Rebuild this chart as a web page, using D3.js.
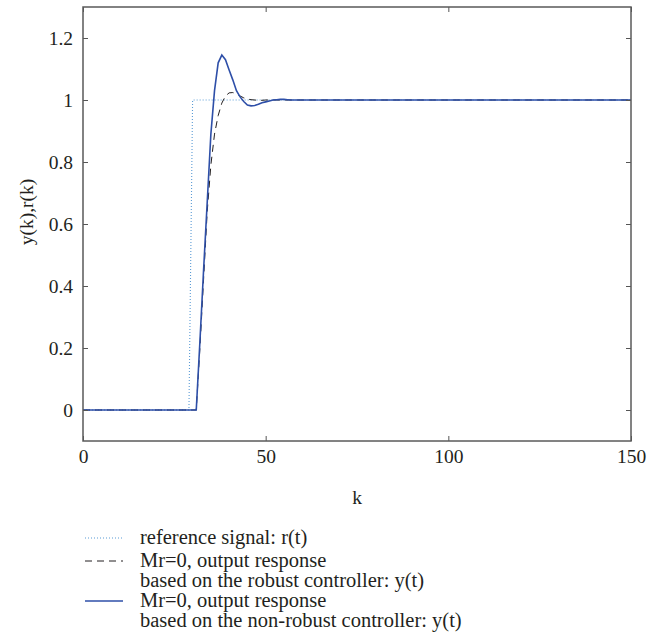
<!DOCTYPE html>
<html>
<head>
<meta charset="utf-8">
<script src="https://cdn.jsdelivr.net/npm/d3@7"></script>
<style>
  body { margin: 0; background: #fff; }
  text { font-family: "Liberation Serif", "DejaVu Serif", serif; fill: #231f20; }
</style>
</head>
<body>
<div id="chart"></div>
<script>
let width = 659
  , height = 637
  , marginLeft = 83
  , marginTop = 7
  , plotW = 548
  , plotH = 434
  , fontSize = "19.5px"
  , legendFont = "20.5px";

// reference step r(k)
let kRef = [0, 29, 30, 150];
let rRef = [0, 0, 1, 1];

// robust controller output (dashed)
let kRob = [0, 31, 32, 33, 34, 35, 36, 37, 38, 39, 40, 41, 42, 43, 44, 45, 46, 47, 48, 49, 50, 60, 150];
let yRob = [0, 0, 0.2, 0.42, 0.64, 0.79, 0.89, 0.95, 0.99, 1.013, 1.023, 1.024, 1.02, 1.013, 1.007, 1.003, 1.001, 1.0, 0.999, 0.999, 1.0, 1.0, 1.0];

// non-robust controller output (solid)
let kNon = [0, 31, 32, 33, 34, 35, 36, 37, 38, 39, 40, 41, 42, 43, 44, 45, 46, 47, 48, 49, 50, 51, 52, 53, 54, 55, 56, 57, 60, 150];
let yNon = [0, 0, 0.22, 0.45, 0.67, 0.89, 1.03, 1.12, 1.145, 1.13, 1.097, 1.065, 1.03, 1.01, 0.995, 0.984, 0.981, 0.982, 0.986, 0.991, 0.994, 0.997, 1.0, 1.001, 1.002, 1.002, 1.001, 1.0, 1.0, 1.0];

let xTicks = [0, 50, 100, 150];
let yTicks = [0, 0.2, 0.4, 0.6, 0.8, 1, 1.2];

let legendLabels = [
  ["reference signal: r(t)"],
  ["Mr=0, output response", "based on the robust controller: y(t)"],
  ["Mr=0, output response", "based on the non-robust controller: y(t)"]
];

let x = d3.scaleLinear().domain([0, 150]).range([marginLeft, marginLeft + plotW]);
let y = d3.scaleLinear().domain([-0.1, 1.3]).range([marginTop + plotH, marginTop]);

let svg = d3.select("#chart").append("svg").attr("width", width).attr("height", height);

let line = d3.line().x(d => x(d[0])).y(d => y(d[1]));

let series = [
  { k: kRef, v: rRef, color: "#5b9bd5", width: 1.1, dash: "1,2" },
  { k: kRob, v: yRob, color: "#231f20", width: 1, dash: "7,5" },
  { k: kNon, v: yNon, color: "#2e4fa8", width: 1.6, dash: null }
];

series.forEach(s => {
  svg.append("path")
    .datum(s.k.map((k, i) => [k, s.v[i]]))
    .attr("fill", "none")
    .attr("stroke", s.color)
    .attr("stroke-width", s.width)
    .attr("stroke-dasharray", s.dash)
    .attr("d", line);
});

// axes with inward ticks on every side
let fmt = d => d3.format("")(d);
let axes = [
  { ax: d3.axisLeft(y).tickValues(yTicks).tickFormat(fmt), tr: [marginLeft, 0], pad: 10 },
  { ax: d3.axisRight(y).tickValues(yTicks).tickFormat(""), tr: [marginLeft + plotW, 0], pad: 10 },
  { ax: d3.axisBottom(x).tickValues(xTicks).tickFormat(fmt), tr: [0, marginTop + plotH], pad: 8 },
  { ax: d3.axisTop(x).tickValues(xTicks).tickFormat(""), tr: [0, marginTop], pad: 8 }
];

axes.forEach(a => {
  let g = svg.append("g")
    .attr("transform", "translate(" + a.tr + ")")
    .call(a.ax.tickSizeInner(-5).tickSizeOuter(0).tickPadding(a.pad));
  g.select(".domain").remove();
  g.selectAll(".tick line").attr("stroke", "#555").attr("stroke-width", 1);
  g.selectAll(".tick text").style("font-size", fontSize).attr("fill", "#231f20");
});

svg.append("rect")
  .attr("x", marginLeft).attr("y", marginTop)
  .attr("width", plotW).attr("height", plotH)
  .attr("fill", "none").attr("stroke", "#5a5a5a").attr("stroke-width", 1.5);

svg.append("text")
  .attr("x", x(75)).attr("y", 504)
  .attr("text-anchor", "middle").style("font-size", fontSize)
  .text("k");

svg.append("text")
  .attr("transform", "translate(33,212) rotate(-90)")
  .attr("text-anchor", "middle").style("font-size", fontSize)
  .text("y(k),r(k)");

// legend
let baselines = [544, 567, 587, 607, 627];
let row = 0;
legendLabels.forEach((lines, i) => {
  svg.append("line")
    .attr("x1", 85).attr("x2", 123)
    .attr("y1", baselines[row] - 6).attr("y2", baselines[row] - 6)
    .attr("stroke", series[i].color)
    .attr("stroke-width", series[i].width)
    .attr("stroke-dasharray", series[i].dash);
  lines.forEach(t => {
    svg.append("text")
      .attr("x", 140).attr("y", baselines[row])
      .style("font-size", legendFont)
      .text(t);
    row++;
  });
});
</script>
</body>
</html>
